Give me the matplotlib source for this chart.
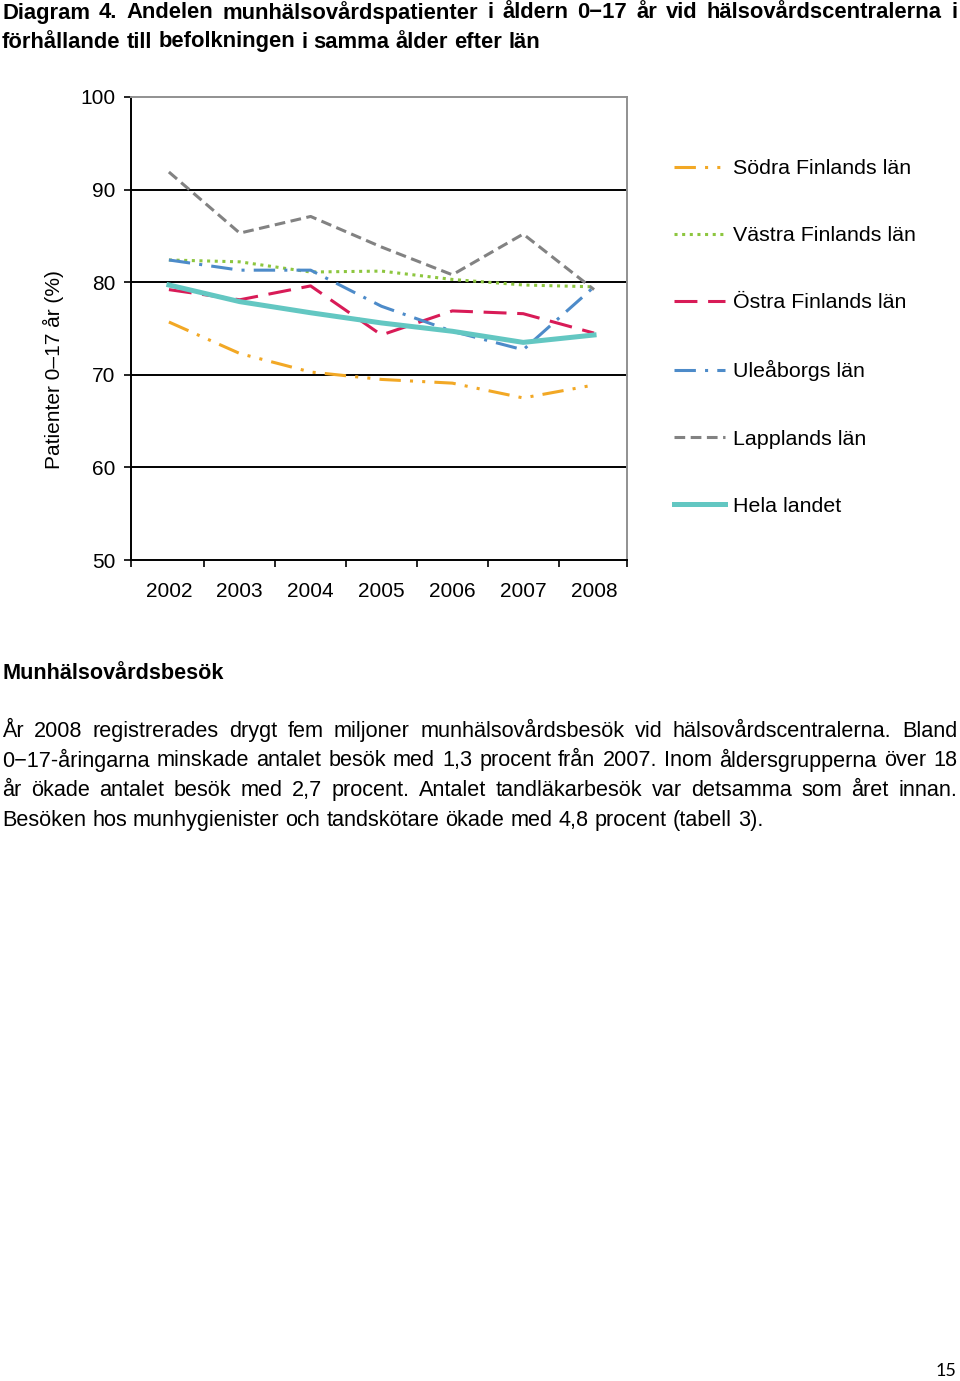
import matplotlib
matplotlib.use("Agg")
import matplotlib.pyplot as plt
from matplotlib.ticker import FixedLocator, NullFormatter

plt.rcParams['font.family'] = ['Liberation Sans', 'DejaVu Sans']

years = ["2002", "2003", "2004", "2005", "2006", "2007", "2008"]
sodra = [75.7, 72.3, 70.3, 69.5, 69.1, 67.5, 68.9]
vastra = [82.4, 82.2, 81.1, 81.2, 80.3, 79.7, 79.5]
ostra = [79.2, 78.1, 79.6, 74.3, 76.9, 76.6, 74.5]
uleaborg = [82.4, 81.3, 81.3, 77.4, 74.7, 72.7, 79.5]
lappland = [91.9, 85.3, 87.1, 83.8, 80.8, 85.2, 79.2]
hela = [79.7, 77.9, 76.7, 75.6, 74.7, 73.5, 74.3]

labels = ["Södra Finlands län", "Västra Finlands län", "Östra Finlands län",
          "Uleåborgs län", "Lapplands län", "Hela landet"]
yticks = [50, 60, 70, 80, 90, 100]

title_lines = [
    "Diagram 4. Andelen munhälsovårdspatienter i åldern 0−17 år vid hälsovårdscentralerna i",
    "förhållande till befolkningen i samma ålder efter län",
]
heading = "Munhälsovårdsbesök"
para_lines = [
    "År 2008 registrerades drygt fem miljoner munhälsovårdsbesök vid hälsovårdscentralerna. Bland",
    "0−17-åringarna minskade antalet besök med 1,3 procent från 2007. Inom åldersgrupperna över 18",
    "år ökade antalet besök med 2,7 procent. Antalet tandläkarbesök var detsamma som året innan.",
    "Besöken hos munhygienister och tandskötare ökade med 4,8 procent (tabell 3).",
]

W, H = 960, 1381
fig = plt.figure(figsize=(W / 100, H / 100), dpi=100)
ax = fig.add_axes([131 / W, 1 - 560 / H, (627 - 131) / W, (560 - 97) / H])

x = range(len(years))
ax.plot(x, sodra, color="#F2A825", lw=2.2, dashes=(7, 3, 1, 3, 1, 3), label=labels[0])
ax.plot(x, vastra, color="#8DC63F", lw=2.2, dashes=(1, 1.5), label=labels[1])
ax.plot(x, ostra, color="#D81B57", lw=2.2, dashes=(7.5, 3.5), label=labels[2])
ax.plot(x, uleaborg, color="#4D8BC9", lw=2.2, dashes=(7, 3, 1, 3), label=labels[3])
ax.plot(x, lappland, color="#828282", lw=2.2, dashes=(3.5, 1.8), label=labels[4])
ax.plot(x, hela, color="#63C7C2", lw=3.6, label=labels[5])

lo, hi = -0.535, len(years) - 0.535
ax.set_xlim(lo, hi)
ax.set_ylim(50, 100)
ax.set_yticks(yticks)
ax.tick_params(axis="y", length=5, width=1.2, pad=6, labelsize=15, direction="out")
for v in yticks[1:-1]:
    ax.axhline(v, color="black", lw=1.4, zorder=0)

ax.xaxis.set_major_locator(FixedLocator([lo] + [i + 0.5 for i in range(len(years) - 1)] + [hi]))
ax.xaxis.set_major_formatter(NullFormatter())
ax.xaxis.set_minor_locator(FixedLocator(list(x)))
ax.set_xticklabels(years, minor=True)
ax.tick_params(axis="x", which="major", length=5, width=1.2, direction="out")
ax.tick_params(axis="x", which="minor", length=0, pad=16, labelsize=15)

for s in ["left", "bottom"]:
    ax.spines[s].set_color("black")
    ax.spines[s].set_linewidth(1.4)
for s in ["top", "right"]:
    ax.spines[s].set_color("#909090")
    ax.spines[s].set_linewidth(1.4)

fig.text(53 / W, 1 - 370 / H, "Patienter 0–17 år (%)", rotation=90,
         ha="center", va="center", fontsize=15)

ax.legend(loc="upper left", bbox_to_anchor=(674 / W, 1 - 159 / H),
          bbox_transform=fig.transFigure, frameon=False, fontsize=15.4,
          handlelength=2.4, handletextpad=0.35, labelspacing=2.25,
          borderaxespad=0, borderpad=0)

renderer = fig.canvas.get_renderer()


def put_line(line, y_px, x0=2, x1=957, justify=True, **kw):
    words = line.split(" ")
    texts = [fig.text(0, 1 - y_px / H, w, va="center", ha="left", **kw) for w in words]
    widths = [t.get_window_extent(renderer).width for t in texts]
    if justify and len(words) > 1:
        gap = (x1 - x0 - sum(widths)) / (len(words) - 1)
    else:
        gap = kw.get("fontsize", 14) * 100 / 72 * 0.28
    xp = x0
    for t, w in zip(texts, widths):
        t.set_x(xp / W)
        xp += w + gap


title_kw = dict(fontsize=15.8, fontweight="bold",
                family=["Liberation Sans Narrow", "Liberation Sans", "DejaVu Sans"])
put_line(title_lines[0], 13, **title_kw)
put_line(title_lines[1], 42, justify=False, **title_kw)

fig.text(3 / W, 1 - 673 / H, heading, fontsize=15.6, fontweight="bold", va="center")
body_kw = dict(fontsize=15.6)
for i, line in enumerate(para_lines):
    put_line(line, 731 + i * 29.7, justify=(i < len(para_lines) - 1), **body_kw)

fig.text(946 / W, 1 - 1371 / H, "15", fontsize=13, ha="center", va="center",
         family=["Lato", "DejaVu Sans"])

fig.savefig("out.png", dpi=100)
